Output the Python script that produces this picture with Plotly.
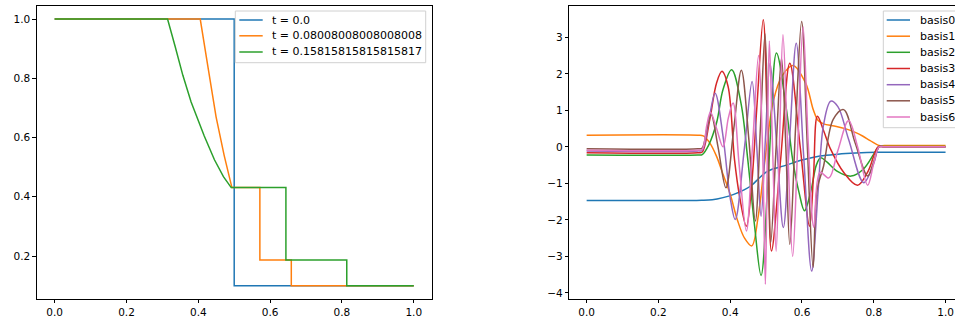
import plotly.graph_objects as go

# ---------------- left panel data ----------------
t_labels = ["t = 0.0", "t = 0.08008008008008008", "t = 0.15815815815815817"]

t0_x = [0.0, 0.5, 0.5, 1.0]
t0_y = [1.0, 1.0, 0.1, 0.1]

t1_x = [0.0, 0.4054, 0.428, 0.4495, 0.472, 0.4936, 0.5715, 0.5715, 0.659, 0.659, 1.0]
t1_y = [1.0, 1.0, 0.83, 0.67, 0.54, 0.431, 0.431, 0.187, 0.187, 0.1, 0.1]

t2_x = [0.0, 0.3144, 0.335, 0.357, 0.38, 0.4166, 0.445, 0.47, 0.4917, 0.644, 0.644, 0.8135, 0.8135, 1.0]
t2_y = [1.0, 1.0, 0.91, 0.81, 0.72, 0.605, 0.525, 0.468, 0.431, 0.431, 0.187, 0.187, 0.1, 0.1]

# ---------------- right panel data ----------------
basis_names = ["basis0", "basis1", "basis2", "basis3", "basis4", "basis5", "basis6"]

basis0_x = [0.0, 0.30, 0.32, 0.35, 0.38, 0.41, 0.44, 0.46, 0.48, 0.50, 0.52, 0.55, 0.60, 0.65, 0.70, 0.75, 0.81, 1.0]
basis0_y = [-1.466, -1.466, -1.464, -1.45, -1.39, -1.30, -1.17, -1.05, -0.86, -0.69, -0.60, -0.52, -0.36, -0.25, -0.20, -0.17, -0.15, -0.146]

basis1_x = [0.0, 0.31, 0.325, 0.343, 0.362, 0.38, 0.40, 0.42, 0.44, 0.46, 0.478, 0.497, 0.521, 0.545, 0.575, 0.61, 0.632, 0.645, 0.66, 0.69, 0.72, 0.75, 0.77, 0.79, 0.815, 0.83, 1.0]
basis1_y = [0.319, 0.319, 0.30, 0.11, -0.26, -0.75, -1.3, -2.0, -2.5, -2.71, -1.9, -0.35, 1.29, 1.95, 2.23, 1.75, 1.0, 0.72, 0.63, 0.57, 0.50, 0.39, 0.29, 0.17, 0.035, 0.035, 0.035]

basis2_x = [0.0, 0.31, 0.322, 0.34, 0.362, 0.38, 0.404, 0.43, 0.449, 0.468, 0.486, 0.507, 0.529, 0.557, 0.574, 0.592, 0.607, 0.625, 0.64, 0.652, 0.67, 0.70, 0.737, 0.77, 0.80, 0.815, 0.83, 1.0]
basis2_y = [-0.22, -0.22, -0.21, 0.05, 0.66, 1.57, 2.11, 1.2, -0.35, -2.17, -3.52, -0.6, 2.57, 1.0, -0.35, -1.26, -1.75, -1.2, -0.5, -0.3, -0.42, -0.68, -0.8, -0.62, -0.2, 0.01, 0.01, 0.01]

basis3_x = [0.0, 0.31, 0.322, 0.343, 0.362, 0.377, 0.394, 0.412, 0.426, 0.445, 0.46, 0.475, 0.492, 0.504, 0.515, 0.54, 0.566, 0.595, 0.621, 0.632, 0.643, 0.66, 0.68, 0.717, 0.755, 0.785, 0.812, 0.83, 1.0]
basis3_y = [-0.16, -0.16, -0.14, 0.75, 1.75, 2.07, 1.66, -0.35, -1.35, -2.17, -1.0, 1.2, 3.48, 0.4, -2.85, -0.4, 2.29, 0.0, -2.17, -0.8, 0.84, 0.45, -0.07, -0.71, -1.05, -0.65, 0.0, 0.0, 0.0]

basis4_x = [0.0, 0.31, 0.322, 0.34, 0.358, 0.38, 0.40, 0.414, 0.44, 0.461, 0.474, 0.486, 0.498, 0.511, 0.53, 0.548, 0.566, 0.584, 0.605, 0.627, 0.645, 0.66, 0.68, 0.70, 0.73, 0.772, 0.80, 0.815, 0.83, 1.0]
basis4_y = [-0.11, -0.11, -0.09, 0.7, 1.47, 0.29, -1.4, -1.99, 0.0, 1.79, 0.0, -1.9, 0.2, 2.29, 0.0, -2.21, 0.3, 2.84, -0.3, -3.4, -1.2, 0.6, 1.25, 1.1, 0.2, -0.98, -0.45, 0.0, 0.0, 0.0]

basis5_x = [0.0, 0.31, 0.322, 0.335, 0.347, 0.366, 0.388, 0.41, 0.431, 0.452, 0.47, 0.484, 0.497, 0.505, 0.513, 0.528, 0.543, 0.555, 0.566, 0.582, 0.599, 0.615, 0.631, 0.642, 0.66, 0.687, 0.716, 0.748, 0.783, 0.80, 0.815, 0.83, 1.0]
basis5_y = [-0.05, -0.05, -0.03, 0.5, 0.88, 0.0, -1.12, 0.5, 2.1, 0.2, -2.03, 0.5, 3.1, 0.5, -2.62, 0.0, 2.43, 0.0, -2.67, 0.5, 3.43, 0.0, -3.3, -1.17, -0.53, 0.75, 1.02, 0.11, -0.8, -0.4, 0.0, 0.0, 0.0]

basis6_x = [0.0, 0.31, 0.322, 0.335, 0.345, 0.362, 0.38, 0.395, 0.408, 0.425, 0.445, 0.462, 0.479, 0.49, 0.498, 0.503, 0.509, 0.518, 0.528, 0.537, 0.547, 0.56, 0.574, 0.588, 0.603, 0.618, 0.633, 0.65, 0.675, 0.70, 0.73, 0.755, 0.783, 0.80, 0.815, 0.83, 1.0]
basis6_y = [-0.09, -0.09, -0.07, 0.6, 0.95, 0.5, 0.0, 0.8, 1.2, -0.5, -2.3, 0.0, 2.5, 0.0, -3.76, -0.5, 2.9, 0.0, -2.86, 0.0, 3.07, 0.0, -3.0, 0.0, 3.29, 0.0, -2.2, -0.7, -0.85, -0.1, 0.72, 0.0, -1.05, -0.45, 0.0, 0.0, 0.0]

x_ticks = [0.0, 0.2, 0.4, 0.6, 0.8, 1.0]
left_y_ticks = [0.2, 0.4, 0.6, 0.8, 1.0]
right_y_ticks = [-4, -3, -2, -1, 0, 1, 2, 3]

colors = ["#1f77b4", "#ff7f0e", "#2ca02c", "#d62728", "#9467bd", "#8c564b", "#e377c2"]

W, H = 955, 320


def fx(px):
    return px / W


def fy(py):
    return 1 - py / H


fig = go.Figure()

left_series = [(t0_x, t0_y), (t1_x, t1_y), (t2_x, t2_y)]
for i, (xs, ys) in enumerate(left_series):
    fig.add_trace(go.Scatter(x=xs, y=ys, mode="lines", name=t_labels[i],
                             line=dict(color=colors[i], width=1.5),
                             xaxis="x", yaxis="y", showlegend=False))

right_series = [(basis0_x, basis0_y), (basis1_x, basis1_y), (basis2_x, basis2_y),
                (basis3_x, basis3_y), (basis4_x, basis4_y), (basis5_x, basis5_y),
                (basis6_x, basis6_y)]
for i, (xs, ys) in enumerate(right_series):
    fig.add_trace(go.Scatter(x=xs, y=ys, mode="lines", name=basis_names[i],
                             line=dict(color=colors[i], width=1.5, shape="spline", smoothing=1.0),
                             xaxis="x2", yaxis="y2", showlegend=False))

# ---- matplotlib-style legends (box, line samples, labels) ----
shapes = []
annotations = []


def add_legend(box_l, box_t, box_r, box_b, line_l, line_r, text_l, row_y, labels):
    shapes.append(dict(type="rect", xref="paper", yref="paper",
                       x0=fx(box_l), x1=fx(box_r), y0=fy(box_b), y1=fy(box_t),
                       fillcolor="rgba(255,255,255,0.8)",
                       line=dict(color="#d0d0d0", width=1), layer="above"))
    for k, lab in enumerate(labels):
        yy = row_y[k]
        shapes.append(dict(type="line", xref="paper", yref="paper",
                           x0=fx(line_l), x1=fx(line_r), y0=fy(yy), y1=fy(yy),
                           line=dict(color=colors[k], width=1.5), layer="above"))
        annotations.append(dict(x=fx(text_l), y=fy(yy), xref="paper", yref="paper",
                                text=lab, showarrow=False, xanchor="left", yanchor="middle",
                                font=dict(size=11, color="black"), xshift=-1))


add_legend(235.3, 11, 425.7, 62.7, 239.3, 262.7, 271, [20, 35.8, 52], t_labels)
add_legend(883.3, 11, 975, 127.7, 886.7, 910, 919,
           [20, 36.2, 52.3, 68.5, 84.7, 100.8, 117], basis_names)

axis_common = dict(showgrid=False, zeroline=False, showline=True, linecolor="black",
                   linewidth=0.8, ticks="outside", ticklen=3.5, tickwidth=0.8,
                   tickcolor="black", tickfont=dict(size=10.5, color="black"))

y_dom = [fy(299), fy(5.7)]

fig.update_layout(
    width=W, height=H,
    margin=dict(l=0, r=0, t=0, b=0, autoexpand=False),
    paper_bgcolor="white", plot_bgcolor="white",
    font=dict(family="DejaVu Sans", size=10.5, color="black"),
    showlegend=False,
    xaxis=dict(domain=[fx(36.7), fx(431.7)], range=[-0.05, 1.05], tickvals=x_ticks,
               tickformat=".1f", mirror=True, anchor="y", **axis_common),
    yaxis=dict(domain=y_dom, range=[0.055, 1.045], tickvals=left_y_ticks,
               tickformat=".1f", mirror=True, anchor="x", **axis_common),
    xaxis2=dict(domain=[fx(569.3), 1.0], range=[-0.0483, 1.0263], tickvals=x_ticks,
                tickformat=".1f", mirror=True, anchor="y2", **axis_common),
    yaxis2=dict(domain=y_dom, range=[-4.165, 3.865], tickvals=right_y_ticks,
                mirror=False, anchor="x2", **axis_common),
    shapes=shapes,
    annotations=annotations,
)

fig.write_html("out.html", config={"displayModeBar": False},
               post_script="document.body.style.margin='0px';document.body.style.overflow='hidden';")
